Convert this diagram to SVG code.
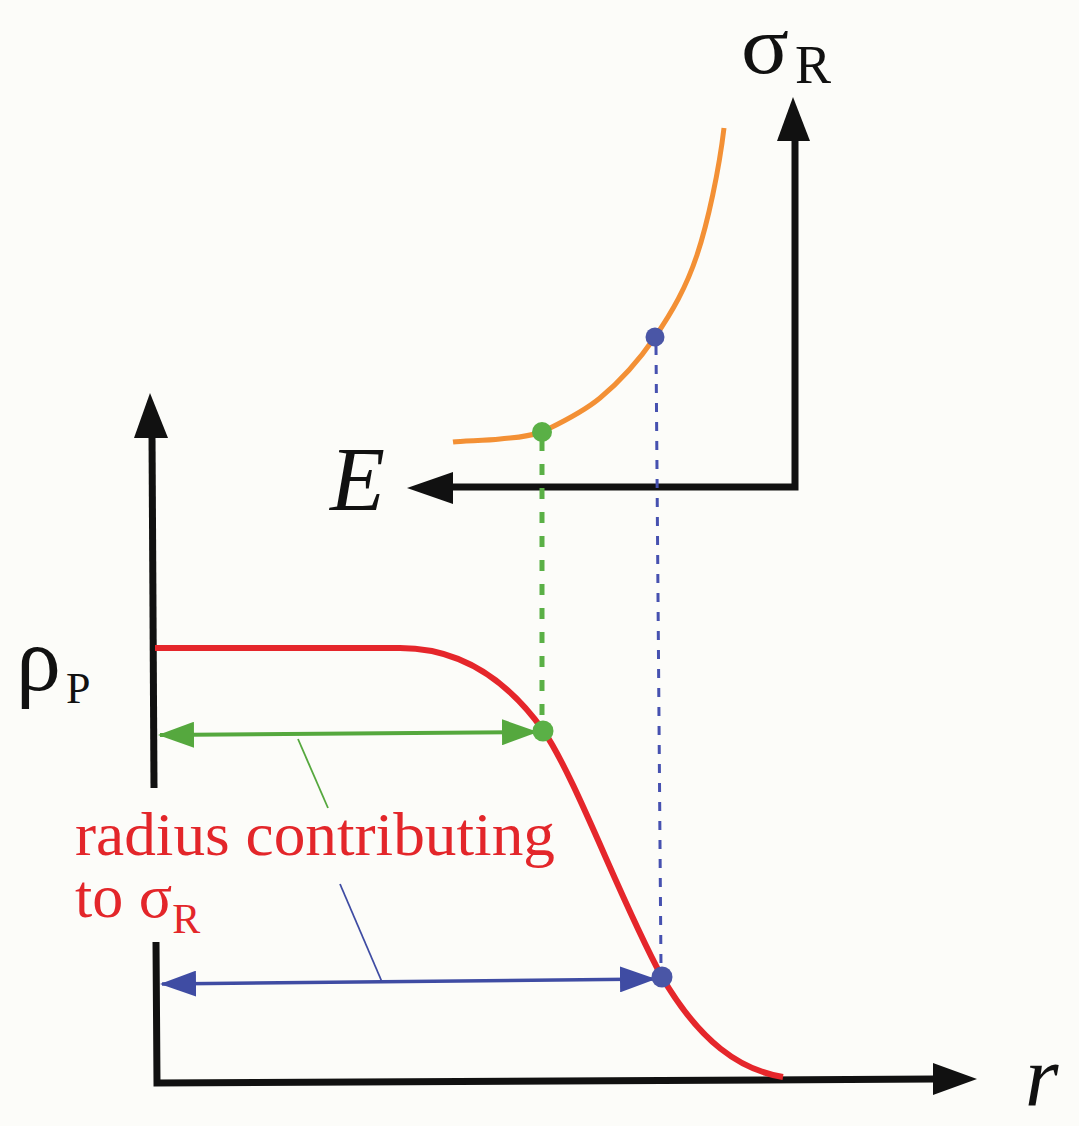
<svg xmlns="http://www.w3.org/2000/svg" width="1079" height="1126" viewBox="0 0 1079 1126">
<style>
.axis{stroke:#111;stroke-width:7;fill:none;stroke-linecap:butt}
.head{fill:#111}
.lbl{font-family:"Liberation Serif","Times New Roman",serif;fill:#111}
.red{font-family:"Liberation Serif","Times New Roman",serif;fill:#e3262a}
.ital{font-style:italic}
</style>
<defs>
<marker id="gArrow" viewBox="0 0 36 26" refX="34" refY="13" markerWidth="36" markerHeight="26" markerUnits="userSpaceOnUse" orient="auto-start-reverse">
<path d="M0,0 L36,13 L0,26 Z" fill="#55a83e"/>
</marker>
<marker id="bArrow" viewBox="0 0 36 26" refX="34" refY="13" markerWidth="36" markerHeight="26" markerUnits="userSpaceOnUse" orient="auto-start-reverse">
<path d="M0,0 L36,13 L0,26 Z" fill="#3f4ca3"/>
</marker>
</defs>
<rect width="1079" height="1126" fill="#fcfcf9"/>

<g id="connectors">
<path class="axis" d="M795,136 L795,487 L450,487"/>
<polygon class="head" points="793,97 777,141 810,141"/>
<polygon class="head" points="407,488 453,472 453,504"/>
<path class="axis" d="M152,434 L154,788"/>
<path class="axis" d="M156,942 L157,1083 L935,1079"/>
<polygon class="head" points="150,393 134,438 168,438"/>
<polygon class="head" points="977,1079 933,1063 933,1095"/>
<line x1="542" y1="440" x2="542" y2="722" stroke="#5ab046" stroke-width="5" stroke-dasharray="11 13"/>
<line x1="656" y1="346" x2="661" y2="968" stroke="#4651b0" stroke-width="3" stroke-dasharray="9 10"/>
<path d="M453,442 C462.5,440.7 485.7,440.7 500,439 C514.3,437.3 524.3,437.8 542,432 C557.7,424.2 581,413.7 600,398 C619,382.3 639.2,360 655,337 C672,312 686,288 697,255 C708,222 719,170 724,128" fill="none" stroke="#f39035" stroke-width="5"/>
<path d="M155,648 L400,648 C450,648 500,670 543,730 C577,780 620,900 662,977 C700,1042 740,1070 783,1077" fill="none" stroke="#e5262b" stroke-width="6"/>
<line x1="160" y1="735" x2="536" y2="732" stroke="#55a83e" stroke-width="4" marker-start="url(#gArrow)" marker-end="url(#gArrow)"/>
<line x1="162" y1="984" x2="654" y2="979" stroke="#3f4ca3" stroke-width="3.5" marker-start="url(#bArrow)" marker-end="url(#bArrow)"/>
<line x1="298" y1="739" x2="328" y2="808" stroke="#55a83e" stroke-width="1.8"/>
<line x1="340" y1="884" x2="382" y2="982" stroke="#3f4ca3" stroke-width="1.8"/>
</g>

<g id="points">
<circle cx="542" cy="432" r="10" fill="#5ab046"/>
<circle cx="655" cy="337" r="9.5" fill="#4a56a6"/>
<circle cx="543" cy="731" r="10.5" fill="#5ab046"/>
<circle cx="662" cy="977" r="10.5" fill="#4a56a6"/>
</g>

<g id="label-sigmaR">
<text class="lbl" x="741" y="73" font-size="82" textLength="48" lengthAdjust="spacingAndGlyphs">σ</text>
<text class="lbl" x="795" y="83" font-size="54">R</text>
</g>
<g id="label-E">
<text class="lbl ital" x="330" y="510" font-size="90">E</text>
</g>
<g id="label-rhoP">
<text class="lbl" x="16" y="690" font-size="90">ρ</text>
<text class="lbl" x="66" y="703" font-size="44">P</text>
</g>
<g id="label-r">
<text class="lbl ital" x="1025" y="1106" font-size="86">r</text>
</g>
<g id="label-radius">
<text class="red" x="75" y="855" font-size="62" textLength="480" lengthAdjust="spacingAndGlyphs">radius contributing</text>
<text class="red" x="75" y="917" font-size="62">to σ<tspan font-size="42" dy="16">R</tspan></text>
</g>
</svg>
